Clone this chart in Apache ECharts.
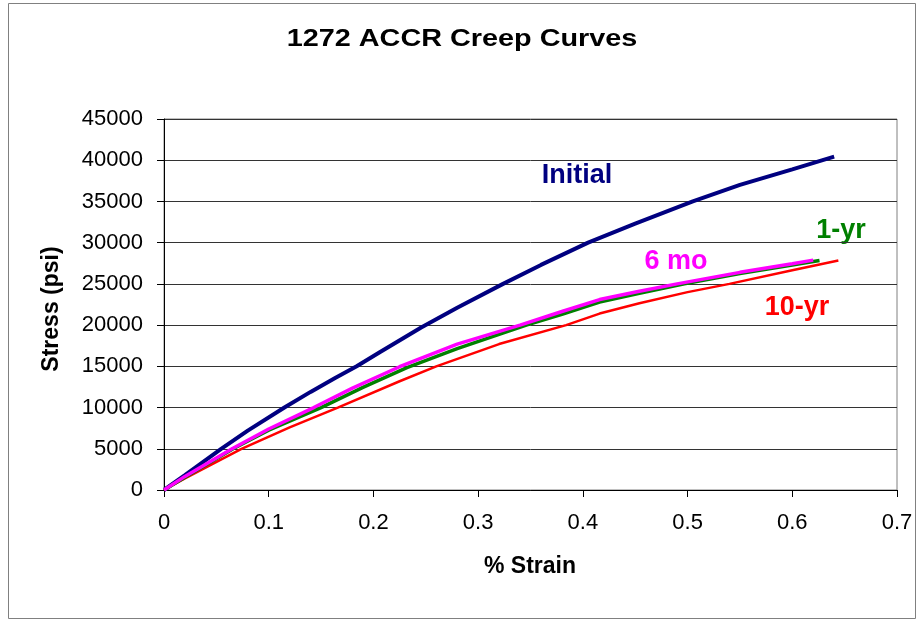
<!DOCTYPE html>
<html>
<head>
<meta charset="utf-8">
<script src="https://cdn.jsdelivr.net/npm/echarts@6/dist/echarts.min.js"></script>
<style>
html,body{margin:0;padding:0;background:#fff;}
#chart{width:917px;height:621px;}
</style>
</head>
<body>
<div id="chart"></div>
<script>
// ---- data ----
var titleText = '1272 ACCR Creep Curves';
var xAxisTitle = '% Strain';
var yAxisTitle = 'Stress (psi)';
var seriesNames = ['Initial', '10-yr', '1-yr', '6 mo'];

var strainInitial = [0, 0.02, 0.0546, 0.08, 0.115, 0.14, 0.163, 0.184, 0.206, 0.2456, 0.28, 0.3238, 0.36, 0.405, 0.45, 0.505, 0.55, 0.6, 0.64];
var stressInitial = [0, 1800, 5000, 7200, 10000, 11900, 13550, 15000, 16700, 19700, 22100, 25000, 27300, 30000, 32300, 35000, 37000, 38900, 40430];

var strain10yr = [0, 0.02, 0.074, 0.12, 0.166, 0.225, 0.26, 0.32, 0.384, 0.416, 0.454, 0.5, 0.54, 0.6, 0.644];
var stress10yr = [0, 1400, 5000, 7600, 10000, 13190, 15000, 17700, 20000, 21400, 22650, 24000, 25000, 26650, 27840];

var strain1yr = [0, 0.02, 0.066, 0.1, 0.15, 0.19, 0.232, 0.28, 0.346, 0.38, 0.416, 0.454, 0.497, 0.55, 0.6, 0.626];
var stress1yr = [0, 1550, 5000, 7250, 10000, 12450, 14850, 17150, 20000, 21300, 22800, 23850, 25000, 26250, 27300, 27840];

var strain6mo = [0, 0.02, 0.065, 0.1, 0.143, 0.18, 0.225, 0.28, 0.34, 0.38, 0.416, 0.454, 0.49, 0.55, 0.6, 0.62];
var stress6mo = [0, 1650, 5000, 7400, 10000, 12350, 14950, 17700, 20000, 21650, 23100, 24100, 25000, 26400, 27450, 27880];

var xTicks = [0, 0.1, 0.2, 0.3, 0.4, 0.5, 0.6, 0.7];
var yTicks = [0, 5000, 10000, 15000, 20000, 25000, 30000, 35000, 40000, 45000];

// ---- build ----
function pairs(xs, ys) { return xs.map(function (x, i) { return [x, ys[i]]; }); }

var colors = ['#000080', '#FF0000', '#008000', '#FF00FF'];
var widths = [4, 2.5, 3.5, 3.5];
var seriesData = [
  pairs(strainInitial, stressInitial),
  pairs(strain10yr, stress10yr),
  pairs(strain1yr, stress1yr),
  pairs(strain6mo, stress6mo)
];

var font = '"Liberation Sans", Arial, sans-serif';

var chart = echarts.init(document.getElementById('chart'), null, {renderer: 'canvas'});
chart.setOption({
  animation: false,
  backgroundColor: '#ffffff',
  grid: {
    left: 164, right: 20, top: 119, bottom: 131,
    show: true, borderColor: '#808080', borderWidth: 1, backgroundColor: 'transparent'
  },
  xAxis: {
    type: 'value',
    min: xTicks[0], max: xTicks[xTicks.length - 1], interval: 0.1,
    axisLine: {show: true, onZero: false, lineStyle: {color: '#000', width: 1}},
    axisTick: {show: true, length: 7, inside: false, lineStyle: {color: '#000'}},
    axisLabel: {
      margin: 22, color: '#000', fontFamily: font, fontSize: 22,
      formatter: function (v) { return String(+v.toFixed(1)); }
    },
    splitLine: {show: false}
  },
  yAxis: {
    type: 'value',
    min: yTicks[0], max: yTicks[yTicks.length - 1], interval: 5000,
    axisLine: {show: true, onZero: false, lineStyle: {color: '#000', width: 1}},
    axisTick: {show: true, length: 7, inside: false, lineStyle: {color: '#000'}},
    axisLabel: {
      margin: 21, color: '#000', fontFamily: font, fontSize: 22,
      formatter: function (v) { return String(v); }
    },
    splitLine: {show: true, lineStyle: {color: '#333', width: 1}}
  },
  series: seriesNames.map(function (n, i) {
    return {
      name: n, type: 'line', data: seriesData[i],
      showSymbol: false, symbol: 'none', smooth: false,
      lineStyle: {color: colors[i], width: widths[i]},
      itemStyle: {color: colors[i]},
      z: 2 + i
    };
  }),
  graphic: [
    {type: 'rect', shape: {x: 8.5, y: 3.5, width: 907, height: 615},
     style: {fill: 'none', stroke: '#808080', lineWidth: 1}, silent: true, z: -1},
    {type: 'text', x: 462, y: 39, scaleX: 1.2, originX: 0, originY: 0,
     style: {text: titleText, fill: '#000', font: 'bold 24px ' + font, textAlign: 'center', textVerticalAlign: 'middle'}},
    {type: 'text', x: 530, y: 567,
     style: {text: xAxisTitle, fill: '#000', font: 'bold 23px ' + font, textAlign: 'center', textVerticalAlign: 'middle'}},
    {type: 'text', x: 52, y: 309, rotation: Math.PI / 2, originX: 0, originY: 0,
     style: {text: yAxisTitle, fill: '#000', font: 'bold 23px ' + font, textAlign: 'center', textVerticalAlign: 'middle'}},
    {type: 'text', x: 577, y: 176,
     style: {text: 'Initial', fill: '#000080', font: 'bold 27px ' + font, textAlign: 'center', textVerticalAlign: 'middle'}},
    {type: 'text', x: 841, y: 231,
     style: {text: '1-yr', fill: '#008000', font: 'bold 27px ' + font, textAlign: 'center', textVerticalAlign: 'middle'}},
    {type: 'text', x: 676, y: 262,
     style: {text: '6 mo', fill: '#FF00FF', font: 'bold 27px ' + font, textAlign: 'center', textVerticalAlign: 'middle'}},
    {type: 'text', x: 797, y: 308,
     style: {text: '10-yr', fill: '#FF0000', font: 'bold 27px ' + font, textAlign: 'center', textVerticalAlign: 'middle'}}
  ]
});
</script>
</body>
</html>
